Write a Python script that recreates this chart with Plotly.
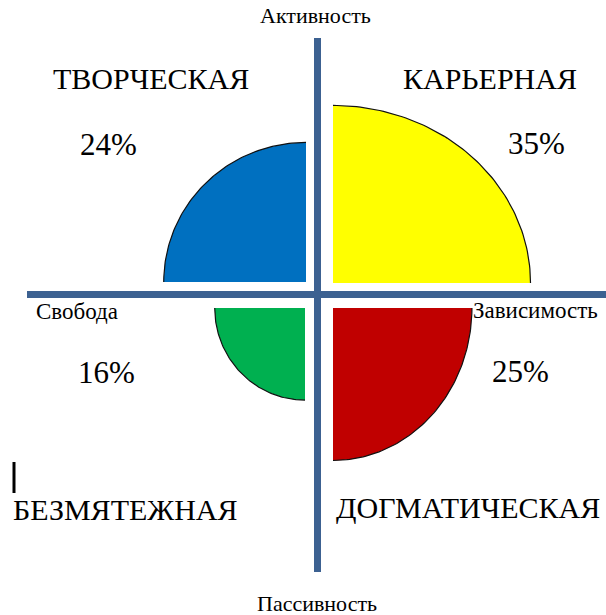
import numpy as np
import plotly.graph_objects as go

# ---- data ----
categories = ["КАРЬЕРНАЯ", "ТВОРЧЕСКАЯ", "БЕЗМЯТЕЖНАЯ", "ДОГМАТИЧЕСКАЯ"]
values = [35, 24, 16, 25]
value_labels = ["35%", "24%", "16%", "25%"]
axis_labels = ["Активность", "Пассивность", "Свобода", "Зависимость"]
colors = ["#FFFF00", "#0070C0", "#00B050", "#C00000"]

# ---- layout helpers (pixel -> data coords, origin at axis crossing) ----
CX, CY = 317.5, 294.5
W, H = 606, 615


def X(px):
    return px - CX


def Y(py):
    return CY - py


K = 5.7  # px per percent (radius scale)
quad_style = [
    dict(a0=0, ox=15.5, oy=11.5, sx=0.99, sy=0.89),
    dict(a0=90, ox=-11.5, oy=12.5, sx=1.04, sy=1.02),
    dict(a0=180, ox=-12.5, oy=-13.5, sx=0.99, sy=1.01),
    dict(a0=270, ox=15.5, oy=-13.5, sx=0.975, sy=1.07),
]

fig = go.Figure()
for v, c, st in zip(values, colors, quad_style):
    t = np.radians(np.linspace(st["a0"], st["a0"] + 90, 80))
    ax = st["ox"] + v * K * st["sx"] * np.cos(t)
    ay = st["oy"] + v * K * st["sy"] * np.sin(t)
    fx = np.concatenate([[st["ox"]], ax, [st["ox"]]])
    fy = np.concatenate([[st["oy"]], ay, [st["oy"]]])
    fig.add_trace(go.Scatter(x=fx, y=fy, mode="lines", fill="toself",
                             fillcolor=c, line=dict(width=0, color=c),
                             hoverinfo="skip", showlegend=False))
    fig.add_trace(go.Scatter(x=ax, y=ay, mode="lines",
                             line=dict(width=1.2, color="#111111"),
                             hoverinfo="skip", showlegend=False))

LINE_C = "#3C6191"
fig.add_shape(type="line", x0=X(27), x1=X(606), y0=0, y1=0,
              line=dict(color=LINE_C, width=7))
fig.add_shape(type="line", x0=0, x1=0, y0=Y(38), y1=Y(572),
              line=dict(color=LINE_C, width=7))
# text cursor mark
fig.add_shape(type="line", x0=X(14), x1=X(14), y0=Y(462), y1=Y(493),
              line=dict(color="black", width=3))

FONT = "Liberation Serif"


def txt(s, px, py, size, xanchor="center"):
    fig.add_annotation(x=X(px), y=Y(py), text=s, showarrow=False,
                       xanchor=xanchor, yanchor="middle",
                       font=dict(family=FONT, size=size, color="black"))


# category labels
big = 30
txt(categories[0], 489.5, 78, big)
txt(categories[1], 151, 78, big)
txt(categories[2], 11, 509, big, "left")
txt(categories[3], 467.5, 507, big)
# value labels
pct = 31
txt(value_labels[0], 536.5, 143.5, pct)
txt(value_labels[1], 108, 144.5, pct)
txt(value_labels[2], 106, 372.5, pct)
txt(value_labels[3], 520, 371.5, pct)
# axis labels
txt(axis_labels[0], 315.5, 15, 22)
txt(axis_labels[1], 317, 603, 22)
txt(axis_labels[2], 34, 311, 23, "left")
txt(axis_labels[3], 471, 310, 23, "left")

fig.update_layout(
    width=W, height=H, margin=dict(l=0, r=0, t=0, b=0),
    paper_bgcolor="white", plot_bgcolor="white",
    font=dict(family=FONT),
    xaxis=dict(range=[X(0), X(W)], visible=False, fixedrange=True),
    yaxis=dict(range=[Y(H), Y(0)], visible=False, fixedrange=True),
    showlegend=False,
)
fig.write_html("out.html")
